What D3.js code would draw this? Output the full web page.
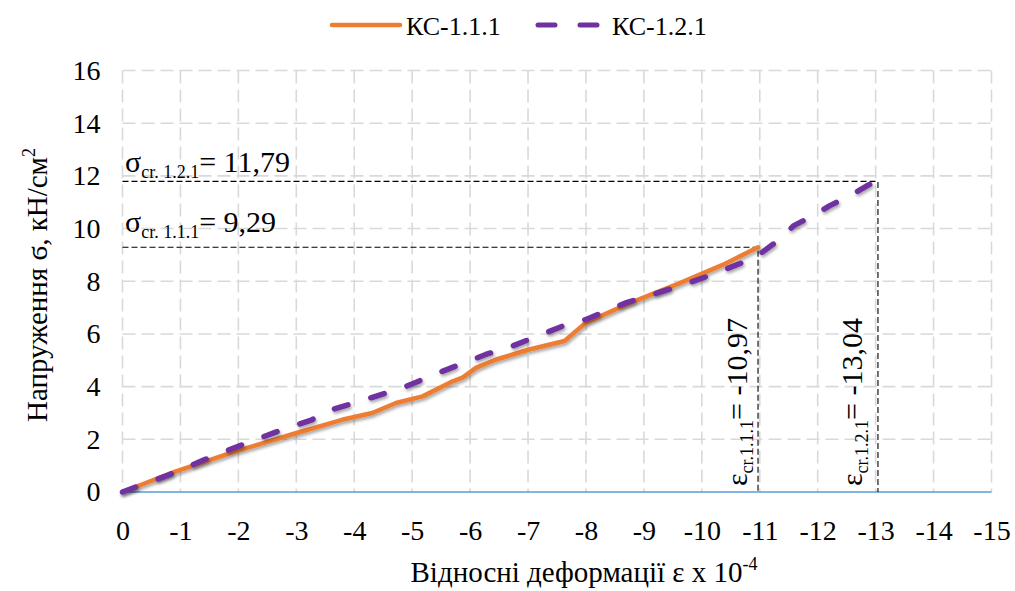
<!DOCTYPE html>
<html>
<head>
<meta charset="utf-8">
<script src="https://cdn.jsdelivr.net/npm/d3@7/dist/d3.min.js"></script>
</head>
<body style="margin:0">
<svg id="chart" width="1015" height="591" font-family="Liberation Serif"></svg>
<script>
// Stress–strain curves of two specimens
const seriesNames = ["КС-1.1.1", "КС-1.2.1"];
const strain111 = [0, -0.91, -1.95, -2.99, -3.79, -4.31, -4.72, -5.18, -5.70, -5.87, -6.10, -6.45, -7.02, -7.63, -8.00, -8.70, -9.62, -10.36, -10.97];
const stress111 = [0, 0.77, 1.54, 2.23, 2.74, 3.00, 3.38, 3.63, 4.20, 4.34, 4.71, 5.03, 5.41, 5.73, 6.43, 7.12, 7.93, 8.62, 9.29];
const strain121 = [0, -0.80, -1.43, -2.06, -2.75, -3.27, -3.51, -4.03, -4.83, -5.52, -6.27, -6.73, -7.60, -8.00, -8.70, -9.62, -10.20, -10.77, -11.00, -11.35, -11.58, -11.92, -12.21, -12.56, -12.87, -13.04];
const stress121 = [0, 0.65, 1.24, 1.79, 2.36, 2.74, 3.06, 3.40, 3.95, 4.58, 5.22, 5.54, 6.30, 6.55, 7.19, 7.82, 8.27, 8.77, 9.03, 9.60, 10.10, 10.49, 10.87, 11.25, 11.65, 11.79];

// Critical (ultimate) points
const critIds = ["1.1.1", "1.2.1"];
const critStrain = [-10.97, -13.04];
const critStress = [9.29, 11.79];
const critStrainText = ["-10,97", "-13,04"];
const critStressText = ["9,29", "11,79"];

const xTicks = d3.range(0, -16, -1);
const yTicks = d3.range(0, 17, 2);

const FONT = '"Liberation Serif"';
const serif = sel => sel.attr("font-family", "Liberation Serif").style("font-family", FONT);

const svg = d3.select("#chart");
const plotLeft = 122.5, plotRight = 991.5, plotTop = 70.5, plotBottom = 492;

const x = d3.scaleLinear().domain([0, -15]).range([plotLeft, plotRight]);
const y = d3.scaleLinear().domain([0, 16]).range([plotBottom, plotTop]);

// drop shadow for the data lines
const defs = svg.append("defs");
const f = defs.append("filter").attr("id", "shadow").attr("x", "-5%").attr("y", "-5%").attr("width", "110%").attr("height", "120%");
f.append("feDropShadow").attr("dx", 1.2).attr("dy", 2.2).attr("stdDeviation", 1.6)
  .attr("flood-color", "#000").attr("flood-opacity", 0.35);

// gridlines
const grid = svg.append("g").attr("stroke", "#d9d9d9").attr("stroke-width", 1.6).attr("stroke-dasharray", "13,6");
grid.selectAll("line.v").data(xTicks).join("line").attr("class", "v")
  .attr("x1", d => x(d)).attr("x2", d => x(d)).attr("y1", y(16)).attr("y2", y(0));
grid.selectAll("line.h").data(yTicks.filter(d => d > 0)).join("line").attr("class", "h")
  .attr("x1", x(0)).attr("x2", x(-15)).attr("y1", d => y(d)).attr("y2", d => y(d));

// x axis line at zero stress
svg.append("line").attr("x1", x(0)).attr("x2", x(-15)).attr("y1", y(0)).attr("y2", y(0))
  .attr("stroke", "#5b9bd5").attr("stroke-width", 1.3);

// axes (labels only)
const xAxis = d3.axisBottom(x).tickValues(xTicks).tickSize(0).tickPadding(28).tickFormat(d => String(d));
const gx = svg.append("g").attr("transform", `translate(0,${plotBottom})`).call(xAxis);
gx.attr("font-family", "Liberation Serif").attr("font-size", 28);
gx.select(".domain").remove();
gx.selectAll("text").attr("font-size", 28).attr("fill", "#000").call(serif);

const yAxis = d3.axisLeft(y).tickValues(yTicks).tickSize(0).tickPadding(22);
const gy = svg.append("g").attr("transform", `translate(${plotLeft},0)`).call(yAxis);
gy.attr("font-family", "Liberation Serif").attr("font-size", 28);
gy.select(".domain").remove();
gy.selectAll("text").attr("font-size", 28).attr("fill", "#000").call(serif);

// critical value guide lines
const guides = svg.append("g").attr("stroke", "#000").attr("stroke-width", 1.1).attr("stroke-dasharray", "6,3").attr("fill", "none");
critStrain.forEach((e, i) => {
  guides.append("path").attr("d", `M${x(0)},${y(critStress[i])}H${x(e)}V${y(0)}`);
});

// data lines
const line = d3.line().x(d => x(d[0])).y(d => y(d[1]));
const data111 = strain111.map((v, i) => [v, stress111[i]]);
const data121 = strain121.map((v, i) => [v, stress121[i]]);

svg.append("path").datum(data111).attr("d", line)
  .attr("fill", "none").attr("stroke", "#ed7d31").attr("stroke-width", 4.5)
  .attr("stroke-linejoin", "round").attr("stroke-linecap", "round").attr("filter", "url(#shadow)");
svg.append("path").datum(data121).attr("d", line)
  .attr("fill", "none").attr("stroke", "#7030a0").attr("stroke-width", 5.5)
  .attr("stroke-linejoin", "round").attr("stroke-dasharray", "14,24").attr("stroke-linecap", "round").attr("filter", "url(#shadow)");

// stress annotations
const sigmaY = [232, 172];
critIds.forEach((id, i) => {
  const t = svg.append("text").attr("x", 125).attr("y", sigmaY[i]).attr("font-size", 30).attr("fill", "#000").call(serif);
  t.append("tspan").text("σ");
  t.append("tspan").attr("font-size", 18).attr("dy", 6).text("cr. " + id);
  t.append("tspan").attr("dy", -6).text("= " + critStressText[i]);
});

// strain annotations (vertical)
const epsX = [747, 862];
critIds.forEach((id, i) => {
  const t = svg.append("text").attr("transform", `translate(${epsX[i]},486) rotate(-90)`)
    .attr("font-size", 30).attr("fill", "#000").call(serif);
  t.append("tspan").text("ε");
  t.append("tspan").attr("font-size", 18).attr("dy", 6).text("cr." + id);
  t.append("tspan").attr("dy", -6).text("= " + critStrainText[i]);
});

// axis titles
const xt = svg.append("text").attr("x", 584).attr("y", 582).attr("text-anchor", "middle").attr("font-size", 29).attr("fill", "#000").call(serif);
xt.append("tspan").text("Відносні деформації ε x 10");
xt.append("tspan").attr("font-size", 18).attr("dy", -12).text("-4");

const yt = svg.append("text").attr("transform", "translate(47,285) rotate(-90)").attr("text-anchor", "middle").attr("font-size", 29).attr("fill", "#000").call(serif);
yt.append("tspan").text("Напруження ϭ, кН/см");
yt.append("tspan").attr("font-size", 18).attr("dy", -12).text("2");

// legend
const lg = svg.append("g");
lg.append("line").attr("x1", 332).attr("x2", 400).attr("y1", 25).attr("y2", 25)
  .attr("stroke", "#ed7d31").attr("stroke-width", 4.5).attr("stroke-linecap", "round");
lg.append("text").attr("x", 406).attr("y", 35).attr("font-size", 26).call(serif).text(seriesNames[0]);
lg.append("line").attr("x1", 538).attr("x2", 600).attr("y1", 25).attr("y2", 25)
  .attr("stroke", "#7030a0").attr("stroke-width", 5).attr("stroke-linecap", "round").attr("stroke-dasharray", "17,25");
lg.append("text").attr("x", 612).attr("y", 35).attr("font-size", 26).call(serif).text(seriesNames[1]);
</script>
</body>
</html>
